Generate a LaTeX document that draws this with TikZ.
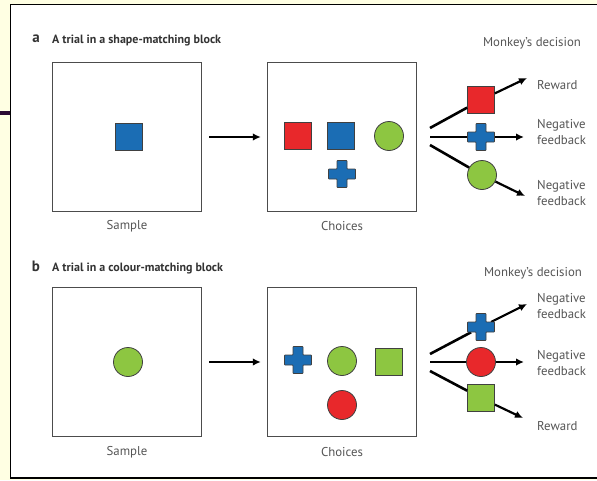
\documentclass[tikz,border=0pt]{standalone}
\usepackage{fontspec}
\setmainfont{PT Sans}
\usetikzlibrary{arrows.meta}

\definecolor{cream}{HTML}{FFFFE3}
\definecolor{slidebar}{HTML}{2B0A33}
\definecolor{shapered}{HTML}{E8282B}
\definecolor{shapeblue}{HTML}{1B6DB4}
\definecolor{shapegreen}{HTML}{8DC641}
\definecolor{labelgray}{HTML}{555555}
\definecolor{titlegray}{HTML}{333333}

% plus-shaped marker drawn around an existing node centre
\newcommand{\plusshape}[2]{%
  \draw[plusline, fill=#2] (#1.center) ++(-5,-13.5) -- ++(10,0) -- ++(0,8.5)
    -- ++(8.5,0) -- ++(0,10) -- ++(-8.5,0) -- ++(0,8.5) -- ++(-10,0)
    -- ++(0,-8.5) -- ++(-8.5,0) -- ++(0,-10) -- ++(8.5,0) -- cycle;}

\begin{document}
\begin{tikzpicture}[x=1pt,y=-1pt,
  frame/.style={rectangle, draw=black!70, line width=1.3pt, fill=white,
    minimum width=149pt, minimum height=149pt, inner sep=0pt},
  sq/.style={rectangle, draw=black!75, line width=0.8pt, fill=#1,
    minimum size=27pt, inner sep=0pt},
  circ/.style={circle, draw=black!75, line width=0.8pt, fill=#1,
    minimum size=29pt, inner sep=0pt},
  plusbox/.style={circle, minimum size=22pt, inner sep=0pt},
  plusline/.style={draw=black!75, line width=0.8pt, rounded corners=0.6pt},
  arr/.style={line width=2.2pt, -{Latex[length=8pt,width=7.5pt]}},
  fan/.style={line width=2.6pt},
  lbl/.style={text=labelgray, font=\fontsize{12.8}{16.5}\selectfont, align=left, inner sep=0pt},
  caption/.style={text=labelgray, font=\fontsize{12.8}{14}\selectfont, inner sep=0pt},
  ttl/.style={text=titlegray, font=\bfseries\fontsize{12}{13}\selectfont, inner sep=0pt},
  tag/.style={text=titlegray, font=\bfseries\fontsize{15}{15}\selectfont, inner sep=0pt}
]
\useasboundingbox (0,0) rectangle (597,480);
\fill[cream] (0,0) rectangle (597,480);
\fill[slidebar] (0,111) rectangle (10,115);
\draw[black, line width=1.6pt, fill=white] (10.5,4.5) rectangle (620,478);

% ---------- panel a: shape-matching ----------
\node[tag] (tagA) at (36,39) {a};
\node[ttl, anchor=west] (titleA) at (52,41) {A trial in a shape-matching block};
\node[caption] (decA) at (532,43) {Monkey’s decision};

\node[frame] (sampleA) at (127,137) {};
\node[frame] (choicesA) at (342,137) {};
\node[caption] (sampleLabA) at (127,226) {Sample};
\node[caption] (choicesLabA) at (342,226) {Choices};

\node[sq=shapeblue] (sA) at (129,137) {};
\node[sq=shapered] (cA1) at (298,136) {};
\node[sq=shapeblue] (cA2) at (341,136) {};
\node[circ=shapegreen] (cA3) at (389,136) {};
\node[plusbox] (cA4) at (342,174) {};

\node[sq=shapered] (dA1) at (481,100) {};
\node[plusbox] (dA2) at (481,137) {};
\node[circ=shapegreen] (dA3) at (482,175) {};

\node[lbl, anchor=west] (outA1) at (537,85) {Reward};
\node[lbl, anchor=west] (outA2) at (537,132) {Negative\\feedback};
\node[lbl, anchor=west] (outA3) at (537,193) {Negative\\feedback};

\coordinate (fA1) at (430,128);
\coordinate (fA2) at (430,137);
\coordinate (fA3) at (430,145);
\coordinate (eA1) at (527,78);
\coordinate (eA2) at (524,137);
\coordinate (eA3) at (525,196);

\draw[arr] ([xshift=7pt]sampleA.east) -- ([xshift=-6pt]choicesA.west);
\draw[fan] (fA1) -- (dA1);
\draw[fan] (fA2) -- (dA2);
\draw[fan] (fA3) -- (dA3);
\draw[arr] (dA1) -- (eA1);
\draw[arr] (dA2) -- (eA2);
\draw[arr] (dA3) -- (eA3);

\plusshape{cA4}{shapeblue}
\plusshape{dA2}{shapeblue}

% ---------- panel b: colour-matching ----------
\node[tag] (tagB) at (36,266) {b};
\node[ttl, anchor=west] (titleB) at (52,268) {A trial in a colour-matching block};
\node[caption] (decB) at (533,273) {Monkey’s decision};

\node[frame] (sampleB) at (127,362) {};
\node[frame] (choicesB) at (342,362) {};
\node[caption] (sampleLabB) at (127,452) {Sample};
\node[caption] (choicesLabB) at (342,452) {Choices};

\node[circ=shapegreen] (sB) at (128,362) {};
\node[plusbox] (cB1) at (298,360) {};
\node[circ=shapegreen] (cB2) at (342,361) {};
\node[sq=shapegreen] (cB3) at (389,362) {};
\node[circ=shapered] (cB4) at (342,405) {};

\node[plusbox] (dB1) at (481,327) {};
\node[circ=shapered] (dB2) at (481,362) {};
\node[sq=shapegreen] (dB3) at (481,398) {};

\node[lbl, anchor=west] (outB1) at (537,306) {Negative\\feedback};
\node[lbl, anchor=west] (outB2) at (537,363) {Negative\\feedback};
\node[lbl, anchor=west] (outB3) at (537,426) {Reward};

\coordinate (fB1) at (430,354);
\coordinate (fB2) at (430,362);
\coordinate (fB3) at (430,371);
\coordinate (eB1) at (527,304);
\coordinate (eB2) at (524,362);
\coordinate (eB3) at (523,418);

\draw[arr] ([xshift=7pt]sampleB.east) -- ([xshift=-6pt]choicesB.west);
\draw[fan] (fB1) -- (dB1);
\draw[fan] (fB2) -- (dB2);
\draw[fan] (fB3) -- (dB3);
\draw[arr] (dB1) -- (eB1);
\draw[arr] (dB2) -- (eB2);
\draw[arr] (dB3) -- (eB3);

\plusshape{cB1}{shapeblue}
\plusshape{dB1}{shapeblue}
\end{tikzpicture}
\end{document}
